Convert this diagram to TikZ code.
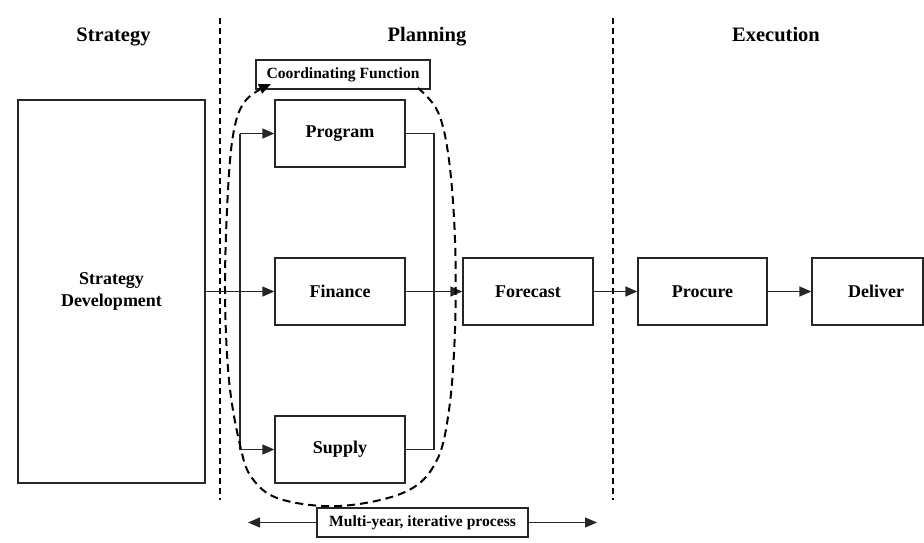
\documentclass[tikz,border=0pt]{standalone}
\usepackage{fontspec}
\setmainfont{Liberation Serif}
\usetikzlibrary{arrows.meta,calc}

\tikzset{
  every node/.style={font=\bfseries},
  procbox/.style={draw=black!85, line width=1.3pt, rectangle, inner sep=0pt,
    minimum width=130pt, minimum height=67pt, font=\fontsize{18}{20}\selectfont\bfseries},
  tagbox/.style={draw=black!85, line width=1.3pt, rectangle, inner sep=0pt,
    font=\fontsize{15.6}{17}\selectfont\bfseries},
  header/.style={anchor=base, font=\fontsize{20.5}{22}\selectfont\bfseries},
  flow/.style={draw=black!85, line width=1.3pt, -{Triangle[length=12pt,width=10pt]}},
  link/.style={draw=black!85, line width=1.3pt},
  divider/.style={draw=black, line width=2pt, dash pattern=on 6pt off 4pt},
  loop/.style={draw=black, line width=2pt, dash pattern=on 8pt off 5pt,
    -{Triangle[length=12pt,width=10pt]}}
}

\begin{document}
\begin{tikzpicture}[x=1pt, y=-1pt]
  \clip (0,0) rectangle (924,542);
  \useasboundingbox (0,0) rectangle (924,542);

  % section headers
  \node[header] (hstrat) at (113.5,41) {Strategy};
  \node[header] (hplan)  at (427,41)   {Planning};
  \node[header] (hexec)  at (776,41)   {Execution};

  % section dividers
  \coordinate (d1top) at (220,18);  \coordinate (d1bot) at (220,500);
  \coordinate (d2top) at (613,18);  \coordinate (d2bot) at (613,500);
  \draw[divider] (d1top) -- (d1bot);
  \draw[divider] (d2top) -- (d2bot);

  % boxes
  \node[procbox, minimum width=187pt, minimum height=383pt, align=center,
        font=\fontsize{18}{22}\selectfont\bfseries] (strat) at (111.5,291.5)
        {Strategy\\Development};
  \node[procbox] (program) at (340,133.5) {Program};
  \node[procbox] (finance) at (340,291.5) {Finance};
  \node[procbox] (supply)  at (340,449.5) {Supply};
  \node[procbox] (forecast) at (528,291.5) {Forecast};
  \node[procbox, minimum width=129pt] (procure) at (702.5,291.5) {Procure};
  \node[procbox, minimum width=111pt] (deliver) at (867.5,291.5) {\hspace*{17pt}Deliver};

  \node[tagbox, minimum width=174pt, minimum height=29pt] (coord) at (343,74.5)
        {Coordinating Function};
  \node[tagbox, minimum width=211pt, minimum height=29pt] (multi) at (422.5,522.5)
        {Multi-year, iterative process};

  % fan-out from strategy into the three planning functions
  \coordinate (splitTop) at (240,133.5);
  \coordinate (splitBot) at (240,449.5);
  \draw[flow] (strat.east) -- (finance.west);
  \draw[link] (splitTop) -- (splitBot);
  \draw[flow] (splitTop) -- (program.west);
  \draw[flow] (splitBot) -- (supply.west);

  % merge of the planning functions into the forecast
  \coordinate (joinTop) at (434,133.5);
  \coordinate (joinBot) at (434,449.5);
  \draw[link] (program.east) -- (joinTop) -- (joinBot) -- (supply.east);
  \draw[flow] (finance.east) -- (forecast.west);

  % execution chain
  \draw[flow] (forecast.east) -- (procure.west);
  \draw[flow] (procure.east) -- (deliver.west);

  % time-span arrows
  \coordinate (spanL) at (248,522.5);
  \coordinate (spanR) at (597,522.5);
  \draw[flow] (multi.west) -- (spanL);
  \draw[flow] (multi.east) -- (spanR);

  % coordinating loop around the planning functions
  \coordinate (loopStart) at (418,88);
  \coordinate (loopEnd) at (271,84);
  \draw[loop] plot[smooth, tension=0.6] coordinates {
    (loopStart) (438,112) (449,160) (455,240) (455,330) (449,410)
    (436,462) (405,492) (340,506) (280,499) (252,478) (240,445)
    (229,380) (225,290) (228,190) (234,130) (246,100) (loopEnd)};
\end{tikzpicture}
\end{document}
